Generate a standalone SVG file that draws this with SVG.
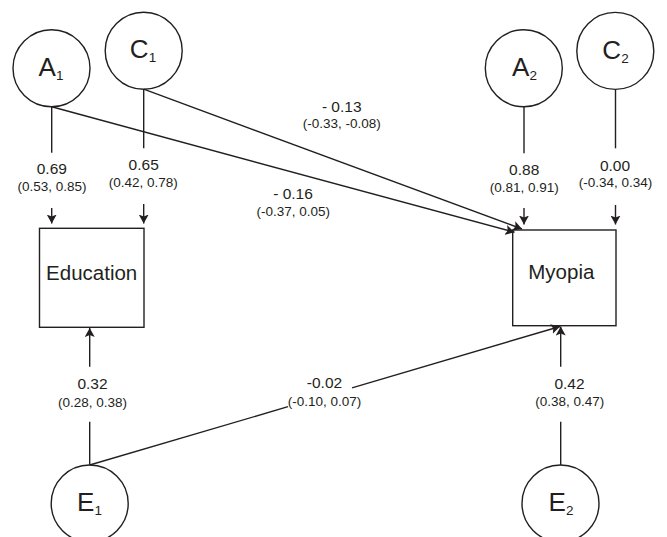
<svg xmlns="http://www.w3.org/2000/svg" width="667" height="537" viewBox="0 0 667 537">
<style>
.n{fill:none;stroke:#231f20;stroke-width:1.4}
.c line,.c path{stroke:#231f20;stroke-width:1.4;fill:none}
.lab{font-family:"Liberation Sans",Arial,sans-serif;fill:#231f20;text-anchor:middle}
.nl{font-size:26px}
.sub{font-size:13.5px}
.v{font-size:15.5px}
.ci{font-size:13.5px}
.box{font-size:20.5px}
</style>
<defs>
<marker id="ah" markerUnits="userSpaceOnUse" markerWidth="9" markerHeight="10" viewBox="0 0 9 10" refX="9" refY="5" orient="auto">
<path d="M0,0 L9,5 L0,10 L2,5 z" fill="#231f20"/>
</marker>
</defs>
<rect width="667" height="537" fill="#fff"/>

<g id="A1"><circle class="n" cx="51.5" cy="68.3" r="38.5"/><text class="lab nl" x="51" y="75.5">A<tspan class="sub" dy="4">1</tspan></text></g>
<g id="C1"><circle class="n" cx="143.7" cy="50.7" r="38.5"/><text class="lab nl" x="143" y="58">C<tspan class="sub" dy="4">1</tspan></text></g>
<g id="A2"><circle class="n" cx="523.8" cy="68.3" r="38.5"/><text class="lab nl" x="524.5" y="75.5">A<tspan class="sub" dy="4">2</tspan></text></g>
<g id="C2"><circle class="n" cx="615.3" cy="50.9" r="38.5"/><text class="lab nl" x="615.5" y="58.5">C<tspan class="sub" dy="4">2</tspan></text></g>
<g id="E1"><circle class="n" cx="89.7" cy="503.5" r="38.5"/><text class="lab nl" x="89.5" y="511">E<tspan class="sub" dy="4">1</tspan></text></g>
<g id="E2"><circle class="n" cx="560.5" cy="503.5" r="38.5"/><text class="lab nl" x="561" y="511">E<tspan class="sub" dy="4">2</tspan></text></g>
<g id="Education"><rect class="n" x="39.5" y="228.3" width="104.5" height="99"/><text class="lab box" x="91.7" y="280">Education</text></g>
<g id="Myopia"><rect class="n" x="512.7" y="230" width="103.3" height="95.7"/><text class="lab box" x="561.3" y="279">Myopia</text></g>

<g id="connectors" class="c">
<line x1="51.7" y1="106.8" x2="51.7" y2="152.7"/>
<line x1="51.7" y1="208" x2="51.7" y2="223.5" marker-end="url(#ah)"/>
<line x1="143.7" y1="89.2" x2="143.7" y2="148.3"/>
<line x1="143.7" y1="204" x2="143.7" y2="223.5" marker-end="url(#ah)"/>
<line x1="524" y1="106.8" x2="524" y2="153.3"/>
<line x1="524" y1="208" x2="524" y2="224.5" marker-end="url(#ah)"/>
<line x1="615.5" y1="89.4" x2="615.5" y2="148.3"/>
<line x1="615.5" y1="205" x2="615.5" y2="224.5" marker-end="url(#ah)"/>
<line x1="51.7" y1="106.8" x2="514.5" y2="232.3" marker-end="url(#ah)"/>
<line x1="143.7" y1="89.2" x2="522" y2="229" marker-end="url(#ah)"/>
<line x1="89.7" y1="465" x2="89.7" y2="421.7"/>
<line x1="89.7" y1="366.7" x2="89.7" y2="328" marker-end="url(#ah)"/>
<line x1="560.7" y1="465" x2="560.7" y2="421.7"/>
<line x1="560.7" y1="366.7" x2="560.7" y2="326.5" marker-end="url(#ah)"/>
<line x1="89.7" y1="465" x2="288" y2="406.7"/>
<line x1="352" y1="387.8" x2="560" y2="326.5" marker-end="url(#ah)"/>
</g>

<g id="labels">
<text class="lab v" x="51.8" y="174">0.69</text><text class="lab ci" x="52" y="191">(0.53, 0.85)</text>
<text class="lab v" x="143.7" y="170">0.65</text><text class="lab ci" x="143.3" y="186.7">(0.42, 0.78)</text>
<text class="lab v" x="524.2" y="175">0.88</text><text class="lab ci" x="524.3" y="191.7">(0.81, 0.91)</text>
<text class="lab v" x="615" y="170.7">0.00</text><text class="lab ci" x="615.5" y="187.3">(-0.34, 0.34)</text>
<text class="lab v" x="341.7" y="112.3">- 0.13</text><text class="lab ci" x="341.7" y="128.3">(-0.33, -0.08)</text>
<text class="lab v" x="293" y="199">- 0.16</text><text class="lab ci" x="293.3" y="215.7">(-0.37, 0.05)</text>
<text class="lab v" x="92.5" y="389">0.32</text><text class="lab ci" x="92.5" y="406.7">(0.28, 0.38)</text>
<text class="lab v" x="569.5" y="389">0.42</text><text class="lab ci" x="569.7" y="406">(0.38, 0.47)</text>
<text class="lab v" x="324.5" y="388">-0.02</text><text class="lab ci" x="324.5" y="405.5">(-0.10, 0.07)</text>
</g>
</svg>
